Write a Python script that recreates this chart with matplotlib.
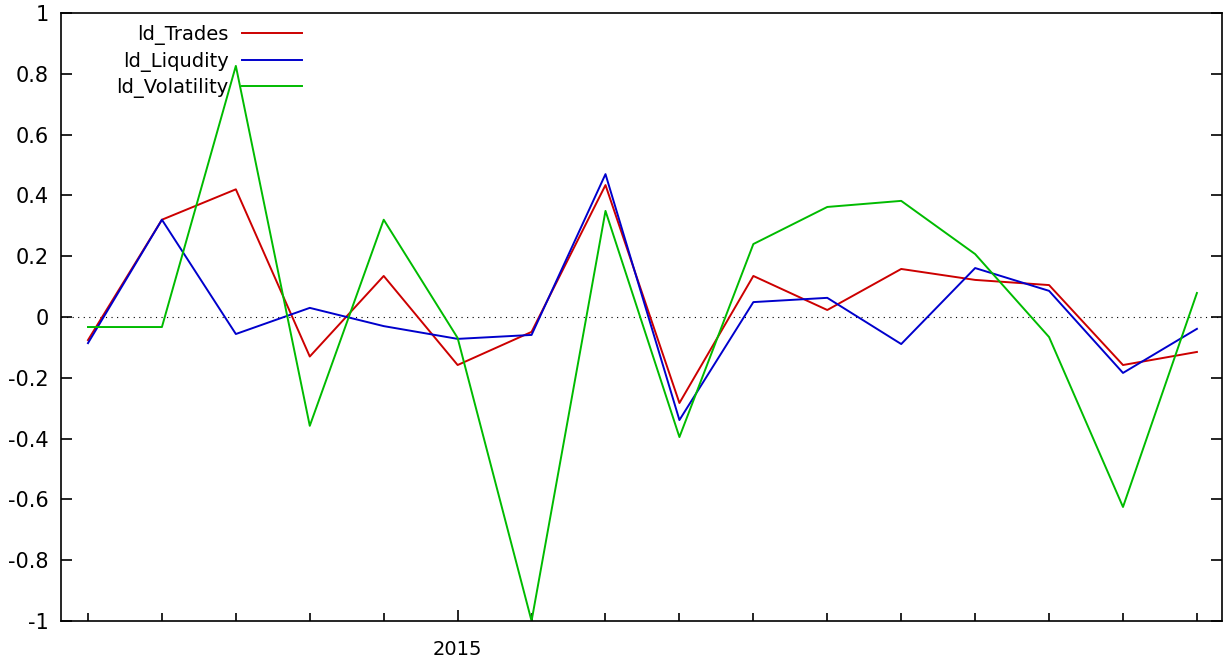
import matplotlib.pyplot as plt
from matplotlib.ticker import FixedLocator
import numpy as np

# quarterly values, 16 periods; only the 2015 position is labelled
periods = np.arange(16)
year_tick = 5
year_label = '2015'

trades = [-0.076, 0.32, 0.42, -0.13, 0.135, -0.158, -0.049, 0.434,
          -0.283, 0.135, 0.023, 0.158, 0.122, 0.105, -0.158, -0.115]
liquidity = [-0.086, 0.32, -0.056, 0.03, -0.03, -0.072, -0.059, 0.47,
             -0.339, 0.049, 0.063, -0.089, 0.161, 0.086, -0.184, -0.039]
volatility = [-0.033, -0.033, 0.826, -0.358, 0.32, -0.069, -1.0, 0.349,
              -0.395, 0.24, 0.362, 0.382, 0.207, -0.066, -0.625, 0.079]

plt.rcParams['font.family'] = ['DejaVu Sans']

fig = plt.figure(figsize=(12.25, 6.64), dpi=100)
ax = fig.add_axes([0.0498, 0.0648, 0.9478, 0.9156])

ax.axhline(0, color='black', lw=0.8, ls=(0, (1, 4)), zorder=1)

ax.plot(periods, trades, color='#cc0000', lw=1.4, label='ld_Trades')
ax.plot(periods, liquidity, color='#0000cc', lw=1.4, label='ld_Liqudity')
ax.plot(periods, volatility, color='#00bb00', lw=1.4, label='ld_Volatility')

ax.set_xlim(-0.365, 15.34)
ax.set_ylim(-1, 1)

ax.xaxis.set_major_locator(FixedLocator([year_tick]))
ax.set_xticklabels([year_label])
ax.xaxis.set_minor_locator(FixedLocator([p for p in periods if p != year_tick]))
ax.set_yticks(np.arange(-1, 1.01, 0.2))
ax.set_yticklabels(['-1', '-0.8', '-0.6', '-0.4', '-0.2', '0',
                    '0.2', '0.4', '0.6', '0.8', '1'])

ax.tick_params(axis='x', which='major', direction='in', length=8, width=1.2,
               labelsize=14, pad=14, top=False)
ax.tick_params(axis='x', which='minor', direction='in', length=5.5, width=1.2,
               top=False)
ax.tick_params(axis='y', which='major', direction='in', length=8, width=1.2,
               labelsize=15, pad=9, right=True)

for s in ax.spines.values():
    s.set_linewidth(1.2)

ax.legend(loc='upper left', bbox_to_anchor=(0.0476, 0.980), frameon=False,
          markerfirst=False, fontsize=14, handlelength=3.1, handletextpad=0.67,
          labelspacing=0.33, borderpad=0, borderaxespad=0)

fig.savefig('out.png', dpi=100)
plt.close()
